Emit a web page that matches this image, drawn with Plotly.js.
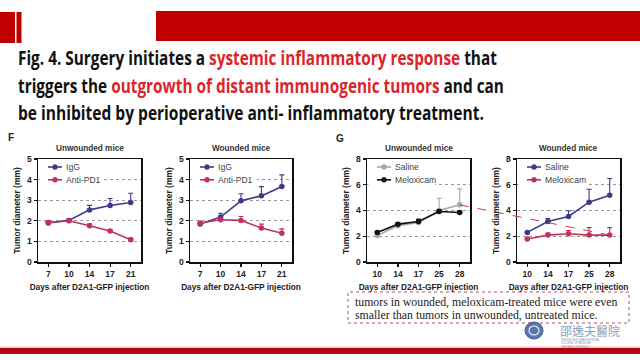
<!DOCTYPE html>
<html><head><meta charset="utf-8">
<script src="https://cdn.plot.ly/plotly-3.0.1.min.js"></script>
<style>html,body{margin:0;padding:0;background:#fff}#chart{width:640px;height:360px}</style>
</head><body><div id="chart"></div>
<script>
// ---- data ----
const daysF = ['7', '10', '14', '17', '21'];
const daysG = ['10', '14', '17', '25', '28'];
const fUnwIgG = [1.89, 2.02, 2.53, 2.74, 2.89];
const fUnwIgGErr = [0.05, 0.06, 0.22, 0.34, 0.45];
const fUnwPD1 = [1.92, 2.00, 1.76, 1.50, 1.08];
const fUnwPD1Err = [0.05, 0.05, 0.09, 0.07, 0.08];
const fUnwSig = ['', '', '*', '**', '***'];
const fWndIgG = [1.85, 2.18, 2.97, 3.21, 3.66];
const fWndIgGErr = [0.06, 0.19, 0.34, 0.45, 0.57];
const fWndPD1 = [1.89, 2.05, 2.02, 1.65, 1.40];
const fWndPD1Err = [0.05, 0.06, 0.19, 0.19, 0.21];
const fWndSig = ['', '', '*', '**', '***'];
const gUnwSal = [2.06, 2.81, 3.07, 4.00, 4.44];
const gUnwSalErr = [0.08, 0.12, 0.30, 0.95, 1.24];
const gUnwMel = [2.30, 2.94, 3.15, 3.92, 3.85];
const gUnwMelErr = [0.08, 0.10, 0.12, 0.12, 0.10];
const gWndSal = [2.30, 3.15, 3.54, 4.65, 5.19];
const gWndSalErr = [0.05, 0.22, 0.44, 1.00, 1.30];
const gWndMel = [1.78, 2.09, 2.19, 2.09, 2.09];
const gWndMelErr = [0.08, 0.15, 0.26, 0.58, 0.58];
const gWndSig = ['**', '**', '*', '*', '*'];
const legendF = ['IgG', 'Anti-PD1'];
const legendG = ['Saline', 'Meloxicam'];
const panelTitles = ['Unwounded mice', 'Wounded mice', 'Unwounded mice', 'Wounded mice'];
const xTitle = 'Days after D2A1-GFP injection';
const yTitle = 'Tumor diameter (mm)';

// ---- style ----
const W = 640, H = 360;
const NAVY = '#3b3b8e', CRIM = '#c0325e', GRAY = '#a8a8a8', BLACK = '#111111';
const SANS = 'Liberation Sans, Arial, sans-serif';
const px = v => v / W, py = v => 1 - v / H;
const panels = [
  {x0: 38, x1: 141}, {x0: 190, x1: 292}, {x0: 367, x1: 470}, {x0: 517, x1: 620}
];
const yTop = 159, yBot = 262;

function trace(x, y, err, color, k) {
  const s = k === 0 ? '' : String(k + 1);
  return {
    type: 'scatter', mode: 'lines+markers', x, y, xaxis: 'x' + s, yaxis: 'y' + s,
    line: {color, width: 1.6}, marker: {color, size: 5.5, symbol: 'circle'},
    error_y: {type: 'data', array: err, arrayminus: err.map(() => 0), symmetric: false,
      color, thickness: 1.1, width: 2.5},
    showlegend: false, hoverinfo: 'skip', cliponaxis: false
  };
}

const data = [
  trace(daysF, fUnwIgG, fUnwIgGErr, NAVY, 0),
  trace(daysF, fUnwPD1, fUnwPD1Err, CRIM, 0),
  trace(daysF, fWndIgG, fWndIgGErr, NAVY, 1),
  trace(daysF, fWndPD1, fWndPD1Err, CRIM, 1),
  trace(daysG, gUnwSal, gUnwSalErr, GRAY, 2),
  trace(daysG, gUnwMel, gUnwMelErr, BLACK, 2),
  trace(daysG, gWndSal, gWndSalErr, NAVY, 3),
  trace(daysG, gWndMel, gWndMelErr, CRIM, 3)
];

const layout = {
  width: W, height: H, margin: {l: 0, r: 0, t: 0, b: 0},
  paper_bgcolor: '#fff', plot_bgcolor: 'rgba(0,0,0,0)', showlegend: false,
  font: {family: SANS, color: '#222'},
  annotations: [], shapes: []
};

const yRanges = [[0, 5], [0, 5], [0, 8], [0, 8]];
const yDticks = [1, 1, 2, 2];
const boldAx = {family: SANS, size: 8.5, color: '#222', weight: 'bold'};
panels.forEach((p, i) => {
  const s = i === 0 ? '' : String(i + 1);
  layout['xaxis' + s] = {
    domain: [px(p.x0), px(p.x1)], anchor: 'y' + s, type: 'category', range: [-0.5, 4.5],
    showline: true, linecolor: '#111', linewidth: 1.5, mirror: true,
    ticks: 'outside', ticklen: 3, tickwidth: 1.2, tickcolor: '#111', showgrid: false,
    tickfont: boldAx, title: {text: xTitle, font: {family: SANS, size: 8.3, color: '#222', weight: 'bold'}, standoff: 6},
    fixedrange: true
  };
  layout['yaxis' + s] = {
    domain: [py(yBot), py(yTop)], anchor: 'x' + s, range: yRanges[i], dtick: yDticks[i], tick0: 0,
    showline: true, linecolor: '#111', linewidth: 1.5, mirror: true,
    ticks: 'outside', ticklen: 3, tickwidth: 1.2, tickcolor: '#111',
    showgrid: true, gridcolor: '#9a9a9a', griddash: 'dot', gridwidth: 1, zeroline: false,
    tickfont: boldAx, title: {text: yTitle, font: {family: SANS, size: 8.5, color: '#222', weight: 'bold'}, standoff: 5},
    fixedrange: true
  };
  layout.annotations.push({
    xref: 'paper', yref: 'paper', x: px((p.x0 + p.x1) / 2), y: py(148), xanchor: 'center', yanchor: 'middle',
    text: panelTitles[i], showarrow: false, font: {family: SANS, size: 8.2, color: '#333', weight: 'bold'}
  });
});

// custom legends (white box masks the grid behind them)
const legendSets = [
  [[legendF[0], NAVY], [legendF[1], CRIM]],
  [[legendF[0], NAVY], [legendF[1], CRIM]],
  [[legendG[0], GRAY], [legendG[1], BLACK]],
  [[legendG[0], NAVY], [legendG[1], CRIM]]
];
const legendBoxW = [66, 67, 68, 70];
legendSets.forEach((set, i) => {
  const p = panels[i];
  layout.shapes.push({type: 'rect', xref: 'paper', yref: 'paper',
    x0: px(p.x0 + 1.5), x1: px(p.x0 + legendBoxW[i]), y0: py(188), y1: py(160.5),
    fillcolor: '#ffffff', line: {width: 0}});
});
legendSets.forEach((set, i) => {
  const p = panels[i];
  set.forEach(([name, color], j) => {
    const yy = 167 + 12.8 * j;
    layout.shapes.push({type: 'line', xref: 'paper', yref: 'paper', x0: px(p.x0 + 10), x1: px(p.x0 + 24),
      y0: py(yy), y1: py(yy), line: {color, width: 1.6}});
    layout.shapes.push({type: 'circle', xref: 'paper', yref: 'paper', x0: px(p.x0 + 14.5), x1: px(p.x0 + 19.5),
      y0: py(yy + 2.5), y1: py(yy - 2.5), fillcolor: color, line: {color, width: 0.5}});
    layout.annotations.push({xref: 'paper', yref: 'paper', x: px(p.x0 + 27), y: py(yy), xanchor: 'left', yanchor: 'middle',
      text: name, showarrow: false, borderpad: 0, font: {family: SANS, size: 8.6, color: '#444'}});
  });
});

// significance stars
function stars(sig, x, y, k) {
  const s = k === 0 ? '' : String(k + 1);
  sig.forEach((t, i) => {
    if (!t) return;
    layout.annotations.push({xref: 'x' + s, yref: 'y' + s, x: x[i], y: y[i], text: t, showarrow: false,
      yanchor: 'middle', yshift: -10, font: {family: SANS, size: 9, color: '#333'}});
  });
}
stars(fUnwSig, daysF, fUnwPD1, 0);
stars(fWndSig, daysF, fWndPD1, 1);
stars(gWndSig, daysG, gWndMel, 3);

// panel letters
layout.annotations.push({xref: 'paper', yref: 'paper', x: px(6), y: py(137), xanchor: 'left', yanchor: 'middle', text: 'F',
  showarrow: false, font: {family: SANS, size: 10, color: '#222', weight: 'bold'}});
layout.annotations.push({xref: 'paper', yref: 'paper', x: px(334), y: py(138), xanchor: 'left', yanchor: 'middle', text: 'G',
  showarrow: false, font: {family: SANS, size: 10, color: '#222', weight: 'bold'}});

// red dashed connector from unwounded saline (last) to wounded meloxicam (last)
function toPaper(k, idx, val) {
  const p = panels[k];
  const xf = (idx + 0.5) / 5;
  const yr = yRanges[k];
  return [px(p.x0 + xf * (p.x1 - p.x0)), py(yBot - (val - yr[0]) / (yr[1] - yr[0]) * (yBot - yTop))];
}
const a = toPaper(2, 4, gUnwSal[4]);
const b = toPaper(3, 4, gWndMel[4]);
layout.shapes.push({type: 'line', xref: 'paper', yref: 'paper', x0: a[0], y0: a[1], x1: b[0], y1: b[1],
  line: {color: '#e0363c', width: 1, dash: 'dash'}});

// slide decoration
const RED = '#c00000';
layout.shapes.push({type: 'rect', xref: 'paper', yref: 'paper', x0: 0, x1: px(15), y0: py(43), y1: py(12), fillcolor: RED, line: {width: 0}});
layout.shapes.push({type: 'rect', xref: 'paper', yref: 'paper', x0: px(16.5), x1: px(21.5), y0: py(43), y1: py(12), fillcolor: RED, line: {width: 0}});
layout.shapes.push({type: 'rect', xref: 'paper', yref: 'paper', x0: px(156), x1: 1, y0: py(41), y1: py(11), fillcolor: RED, line: {width: 0}});
layout.shapes.push({type: 'rect', xref: 'paper', yref: 'paper', x0: 0, x1: 1, y0: py(348), y1: py(346.5), fillcolor: '#f2c4c4', line: {width: 0}});
layout.shapes.push({type: 'rect', xref: 'paper', yref: 'paper', x0: 0, x1: 1, y0: py(354), y1: py(348), fillcolor: '#b5000e', line: {width: 0}});

const HL = '#d8262c';
const TF = {family: 'Open Sans, Noto Sans, sans-serif', size: 20, color: '#111', weight: 'bold'};
const titleLines = [
  'Fig. 4. Surgery initiates a <span style="color:' + HL + '">systemic inflammatory response</span> that',
  'triggers the <span style="color:' + HL + '">outgrowth of distant immunogenic tumors</span> and can',
  'be inhibited by perioperative anti- inflammatory treatment.'
];
const titleWidths = [479, 486, 466];
[57, 85, 112.5].forEach((yy, i) => {
  layout.annotations.push({xref: 'paper', yref: 'paper', x: px(17), y: py(yy), xanchor: 'left', yanchor: 'middle',
    align: 'left', borderpad: 0, text: titleLines[i], showarrow: false, font: TF});
});

// text box
layout.shapes.push({type: 'rect', xref: 'paper', yref: 'paper', x0: px(348), x1: px(629), y0: py(323), y1: py(292),
  line: {color: '#b5506a', width: 1, dash: 'dot'}, fillcolor: 'rgba(0,0,0,0)'});
const boxLines = ['tumors in wounded, meloxicam-treated mice were even', 'smaller than tumors in unwounded, untreated mice.'];
[302, 314.5].forEach((yy, i) => {
  layout.annotations.push({xref: 'paper', yref: 'paper', x: px(354), y: py(yy), xanchor: 'left', yanchor: 'middle',
    borderpad: 0, text: boxLines[i], showarrow: false,
    font: {family: 'Liberation Serif, Times New Roman, serif', size: 11.8, color: '#222'}});
});

// logo
layout.shapes.push({type: 'circle', xref: 'paper', yref: 'paper', x0: px(525), x1: px(543), y0: py(339), y1: py(322),
  fillcolor: '#5a76ad', line: {color: '#3f5a92', width: 1}});
layout.shapes.push({type: 'circle', xref: 'paper', yref: 'paper', x0: px(529), x1: px(539), y0: py(335), y1: py(326),
  fillcolor: 'rgba(0,0,0,0)', line: {color: '#e8eef8', width: 1.2}});
layout.annotations.push({xref: 'paper', yref: 'paper', x: px(559), y: py(330), xanchor: 'left', yanchor: 'middle',
  text: '邵逸夫醫院', showarrow: false, borderpad: 0,
  font: {family: 'Noto Sans CJK TC, Noto Sans CJK SC, sans-serif', size: 12, color: '#8e9cbc'}});
layout.annotations.push({xref: 'paper', yref: 'paper', x: px(560), y: py(343), xanchor: 'left', yanchor: 'middle',
  align: 'left', borderpad: 0,
  text: 'SIR RUN RUN SHAW HOSPITAL<br>COLLEGE OF MEDICINE<br>ZHEJIANG UNIVERSITY', showarrow: false,
  font: {family: SANS, size: 2.6, color: '#7d8cae'}});

Plotly.newPlot('chart', data, layout, {staticPlot: true, displayModeBar: false}).then(() => {
  const plain = titleLines.map(t => t.replace(/<[^>]+>/g, ''));
  document.querySelectorAll('.annotation-text').forEach(el => {
    const idx = plain.indexOf(el.textContent);
    if (idx < 0) return;
    const natural = el.getComputedTextLength();
    if (!natural) return;
    const s = titleWidths[idx] / natural;
    const x0 = parseFloat(el.getAttribute('x')) || 0;
    el.setAttribute('transform', 'translate(' + (x0 * (1 - s)) + ',0) scale(' + s + ',1)');
    const g = el.closest('.annotation');
    if (g) g.querySelectorAll('rect').forEach(r => r.setAttribute('width', titleWidths[idx]));
  });
});
</script>
</body></html>
